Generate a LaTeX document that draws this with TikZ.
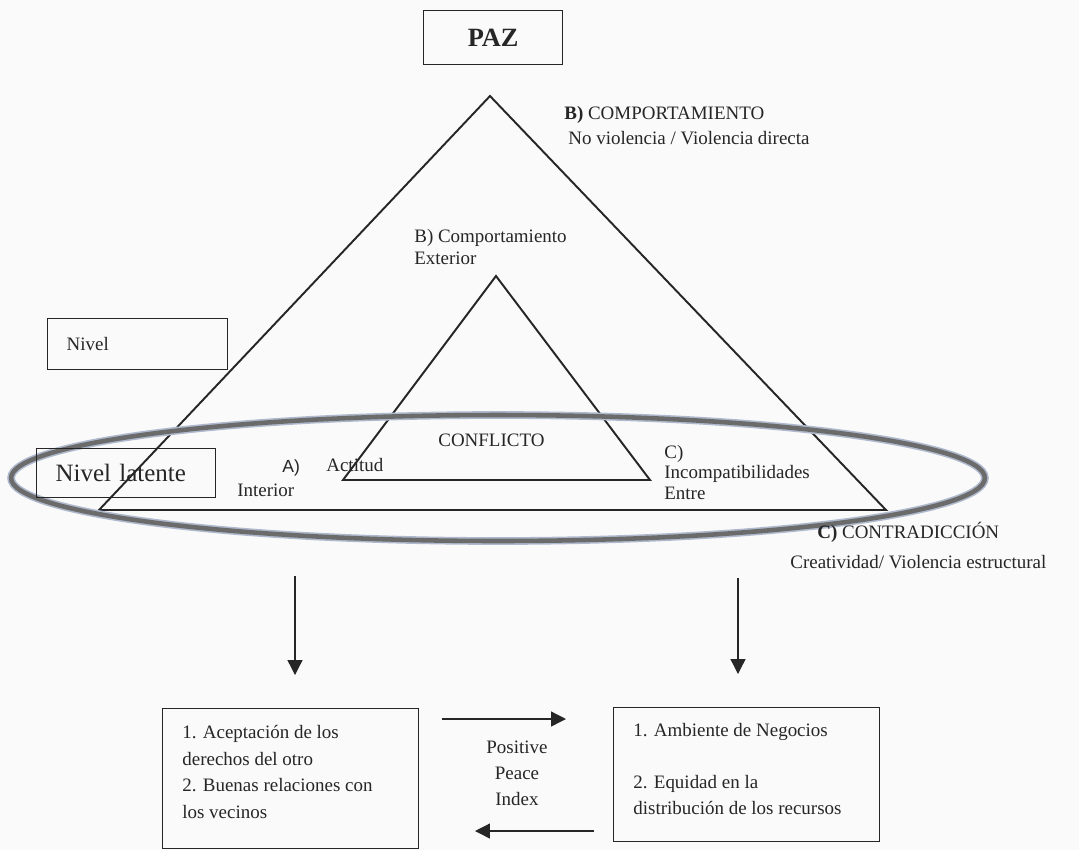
\documentclass[tikz,border=0pt]{standalone}
\usepackage{fontspec}
\setmainfont{Liberation Serif}
\newfontfamily\arialfont{Liberation Sans}
\usetikzlibrary{arrows.meta}
\definecolor{paper}{RGB}{251,250,251}
\definecolor{halocol}{RGB}{175,185,205}

\begin{document}
\begin{tikzpicture}
    [
        x = 0.02cm, y = -0.02cm,
        every node/.style = {font = \fontsize{10.8}{14}\selectfont, inner sep = 0pt, text = black!85},
        txt/.style = {anchor = base west},
        blocktxt/.style = {anchor = west, align = left},
        framebox/.style = {draw = black!85, line width = 0.75pt, anchor = north west},
        tri/.style = {draw = black!85, line width = 1.1pt, line join = miter},
        halo/.style = {draw = halocol, line width = 4.4pt},
        ring/.style = {draw = black!58, line width = 2.6pt},
        arr/.style = {draw = black!85, line width = 0.75pt, -{Triangle[width = 8.5pt, length = 8.5pt]}}
    ]

    \useasboundingbox (0,0) rectangle (1079,850);
    \fill[paper] (0,0) rectangle (1079,850);

    \node[framebox, minimum width = 2.78cm, minimum height = 1.08cm,
          font = \fontsize{15}{18}\selectfont\bfseries] (paz) at (423,10) {PAZ};

    \coordinate (otop) at (490,96);
    \coordinate (oleft) at (99,510);
    \coordinate (oright) at (886,510);
    \coordinate (itop) at (496,276);
    \coordinate (ileft) at (343,480);
    \coordinate (iright) at (650,480);

    \draw[tri] (otop) -- (oleft) -- (oright) -- cycle;
    \draw[tri] (itop) -- (ileft) -- (iright) -- cycle;

    \coordinate (ringc) at (498,478);
    \draw[halo] (ringc) ellipse [x radius = 9.74cm, y radius = 1.26cm];
    \draw[ring] (ringc) ellipse [x radius = 9.74cm, y radius = 1.26cm];

    \node[blocktxt, font = \fontsize{10.8}{14.2}\selectfont] (comp) at (564,125.5)
        {\textbf{B)} COMPORTAMIENTO\\\hspace*{0.08cm}No violencia / Violencia directa};
    \node[blocktxt, font = \fontsize{10.8}{12.5}\selectfont] (compint) at (414,247)
        {B) Comportamiento\\Exterior};

    \node[framebox, minimum width = 3.6cm, minimum height = 1.02cm,
          text width = 2.84cm, inner xsep = 0.38cm, align = left] (nivel) at (47,318) {Nivel};
    \node[framebox, minimum width = 3.58cm, minimum height = 0.98cm,
          text width = 2.82cm, inner xsep = 0.38cm, align = left,
          font = \fontsize{14.2}{16}\selectfont] (latente) at (36,448) {Nivel latente};

    \node[txt] (conflicto) at (438,446.3) {CONFLICTO};
    \node[txt, font = \fontsize{10}{12}\selectfont\arialfont] (letraa) at (282,472.3) {A)};
    \node[txt] (actitud) at (326,471.3) {Actitud};
    \node[txt] (interior) at (237,496.3) {Interior};
    \node[blocktxt, font = \fontsize{10.8}{11.6}\selectfont] (incomp) at (664,472.3)
        {C)\\Incompatibilidades\\Entre};

    \node[txt] (contra) at (817,538.3) {\textbf{C)} CONTRADICCIÓN};
    \node[txt] (creat) at (790,568.3) {Creatividad/ Violencia estructural};

    \coordinate (la1) at (295,576);
    \coordinate (la2) at (295,675);
    \coordinate (ra1) at (738,578);
    \coordinate (ra2) at (738,674);
    \draw[arr] (la1) -- (la2);
    \draw[arr] (ra1) -- (ra2);

    \node[framebox, minimum width = 5.12cm, minimum height = 2.8cm] (lbox) at (162,708) {};
    \node[framebox, minimum width = 5.32cm, minimum height = 2.68cm] (rbox) at (613,707) {};

    \node[blocktxt, font = \fontsize{10.8}{15.1}\selectfont] (ltext) at (182,771.8)
        {1. Aceptación de los\\derechos del otro\\2. Buenas relaciones con\\los vecinos};
    \node[blocktxt, font = \fontsize{10.8}{14.7}\selectfont] (rtext) at (633,768.8)
        {1. Ambiente de Negocios\\[14.7pt]2. Equidad en la\\distribución de los recursos};

    \node[align = center, font = \fontsize{10.8}{14.7}\selectfont] (ppi) at (517,773)
        {Positive\\Peace\\Index};

    \coordinate (fw1) at (442,719);
    \coordinate (fw2) at (566,719);
    \coordinate (bw1) at (594,831);
    \coordinate (bw2) at (475,831);
    \draw[arr] (fw1) -- (fw2);
    \draw[arr] (bw1) -- (bw2);
\end{tikzpicture}
\end{document}
